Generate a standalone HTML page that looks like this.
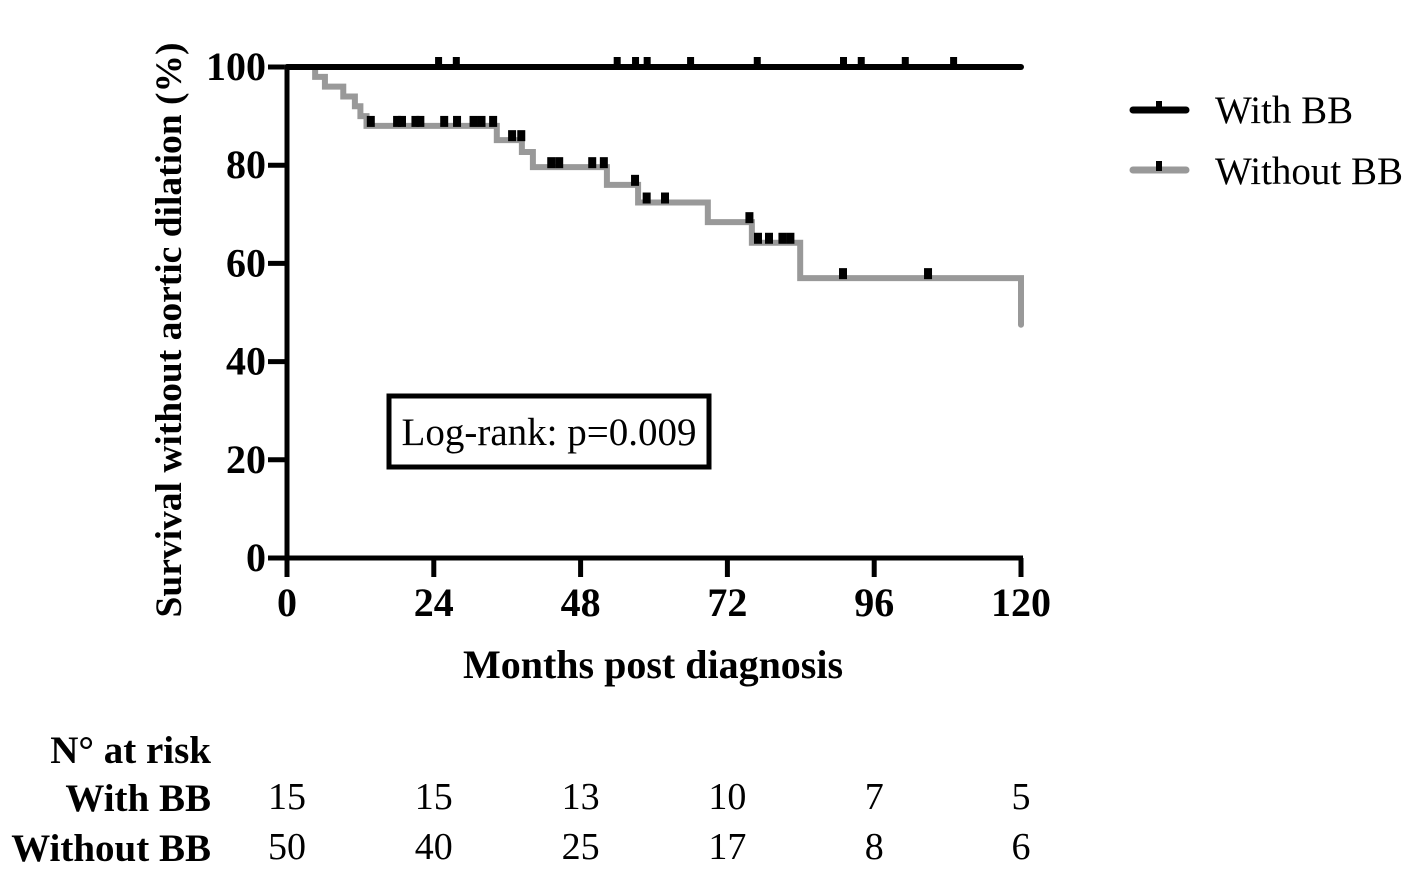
<!DOCTYPE html>
<html><head><meta charset="utf-8"><style>
body{margin:0;background:#fff;}
svg{display:block;font-family:"Liberation Serif",serif;}
</style></head><body>
<svg id="chart" width="1415" height="873" viewBox="0 0 1415 873">
<g id="axes"></g>
<g id="series"></g>
<text x="0" y="0" transform="translate(181,330) rotate(-90)" text-anchor="middle" font-size="37.5" font-weight="bold">Survival without aortic dilation (%)</text>
<text x="653" y="678" text-anchor="middle" font-size="40" font-weight="bold">Months post diagnosis</text>
<g>
<rect x="389" y="396" width="320" height="71" fill="#fff" stroke="#000" stroke-width="5"/>
<text x="549" y="445" text-anchor="middle" font-size="39">Log-rank: p=0.009</text>
</g>
<g>
<g>
<line x1="1133" y1="110" x2="1186" y2="110" stroke="#000" stroke-width="7" stroke-linecap="round"/>
<rect x="1156" y="101" width="6" height="10" fill="#000"/>
<text x="1215" y="123" font-size="39">With BB</text>
</g>
<g>
<line x1="1133" y1="170" x2="1186" y2="170" stroke="#999" stroke-width="7" stroke-linecap="round"/>
<rect x="1156" y="161" width="6" height="10" fill="#000"/>
<text x="1215" y="184" font-size="39">Without BB</text>
</g>
</g>
<g id="risk">
<text x="211" y="763" text-anchor="end" font-size="39" font-weight="bold">N° at risk</text>
<text x="211" y="811" text-anchor="end" font-size="39" font-weight="bold">With BB</text>
<text x="211" y="861" text-anchor="end" font-size="39" font-weight="bold">Without BB</text>
</g>
</svg>
<script>
const xTicks=[0,24,48,72,96,120];
const yTicks=[0,20,40,60,80,100];
const withTimes=[0,120];
const withSurv=[100,100];
const withCensor=[24.7,27.6,53.9,56.9,58.8,65.9,76.8,90.9,93.8,101,108.9];
const woTimes=[0,4.6,6.2,9.2,11.1,12,13,34.3,38.4,40.2,52.3,57.4,68.8,76,83.9,120];
const woSurv=[100,98,96,94,92,90,88,85.1,82.7,79.6,76,72.4,68.4,64.2,57,47.5];
const woCensor=[13.7,18,18.8,21,21.8,25.7,27.8,30.5,31.8,33.7,36.8,38.3,43.2,44.5,49.9,51.8,56.9,58.8,61.8,75.6,77,78.8,81,82.3,90.9,104.8];
const riskWith=[15,15,13,10,7,5];
const riskWithout=[50,40,25,17,8,6];
const X=m=>287+m*(1021-287)/120;
const Y=p=>558-p*(558-67)/100;
const NS="http://www.w3.org/2000/svg";
function mk(tag,attrs,parent){const e=document.createElementNS(NS,tag);for(const k in attrs)e.setAttribute(k,attrs[k]);parent.appendChild(e);return e;}
const axes=document.getElementById('axes');
let a=mk('line',{x1:X(0),y1:Y(0),x2:X(0),y2:Y(100)-2,stroke:'#000','stroke-width':5},axes);

a=mk('line',{x1:X(0)-2,y1:Y(0),x2:X(120)+2,y2:Y(0),stroke:'#000','stroke-width':5},axes);

yTicks.forEach(v=>{
 const t=mk('line',{x1:X(0)-19,y1:Y(v),x2:X(0),y2:Y(v),stroke:'#000','stroke-width':5},axes);
 
 const l=mk('text',{x:266,y:Y(v)+13,'text-anchor':'end','font-size':40,'font-weight':'bold'},axes);
 l.textContent=v;
 
});
xTicks.forEach((v,i)=>{
 const t=mk('line',{x1:X(v),y1:Y(0),x2:X(v),y2:Y(0)+19,stroke:'#000','stroke-width':5},axes);
 
 const l=mk('text',{x:X(v),y:616,'text-anchor':'middle','font-size':40,'font-weight':'bold'},axes);
 l.textContent=v;
 
 const risk=document.getElementById('risk');
 const r1=mk('text',{x:X(v),y:809,'text-anchor':'middle','font-size':38},risk);
 r1.textContent=riskWith[i];
 
 const r2=mk('text',{x:X(v),y:859,'text-anchor':'middle','font-size':38},risk);
 r2.textContent=riskWithout[i];
 
});
const series=document.getElementById('series');
function stepPath(ts,ss){let d='M'+X(ts[0])+','+Y(ss[0]);for(let i=1;i<ts.length;i++){d+=' H'+X(ts[i])+' V'+Y(ss[i]);}return d;}
function survAt(ts,ss,t){let s=ss[0];for(let i=0;i<ts.length;i++){if(ts[i]<=t)s=ss[i];}return s;}
let p=mk('path',{d:stepPath(woTimes,woSurv),fill:'none',stroke:'#999','stroke-width':6,'stroke-linecap':'round'},series);

p=mk('path',{d:'M'+X(withTimes[0])+','+Y(withSurv[0])+' H'+X(withTimes[1]),fill:'none',stroke:'#000','stroke-width':6,'stroke-linecap':'round'},series);

woCensor.forEach(t=>{
 const s=survAt(woTimes,woSurv,t);
 const r=mk('rect',{x:X(t)-4,y:Y(s)-10,width:8,height:11,fill:'#000'},series);
 
});
withCensor.forEach(t=>{
 const r=mk('rect',{x:X(t)-3,y:Y(100)-10,width:7,height:11,fill:'#000'},series);
 
});
</script>
</body></html>
